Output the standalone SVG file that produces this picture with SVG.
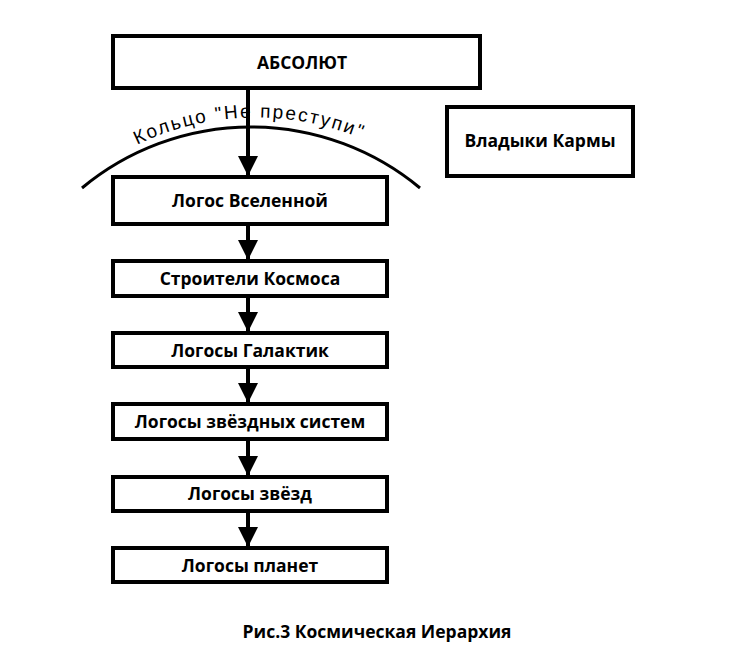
<svg xmlns="http://www.w3.org/2000/svg" width="755" height="663" viewBox="0 0 755 663">
<style>
.b{fill:#fff;stroke:#000;stroke-width:4}
.t{font-family:"Open Sans",sans-serif;font-weight:bold;font-size:17.5px;text-anchor:middle;fill:#000}
.c{stroke:#000;stroke-width:4;fill:none}
</style>
<defs>
<marker id="a" viewBox="0 0 10 10" refX="10" refY="5" markerWidth="5.5" markerHeight="5" orient="auto" markerUnits="strokeWidth"><path d="M0,0L10,5L0,10z" fill="#000"/></marker>
<path id="tp" d="M 92,172 A 274,274 0 0 1 420,172"/>
</defs>
<rect width="755" height="663" fill="#fff"/>
<path d="M 82,188 A 264.6,264.6 0 0 1 420,188" fill="none" stroke="#000" stroke-width="3"/>
<text font-family="Liberation Sans,sans-serif" font-size="19" letter-spacing="2"><textPath href="#tp" startOffset="48%" text-anchor="middle">Кольцо "Не преступи"</textPath></text>
<g id="connectors">
<line class="c" x1="248" y1="88" x2="248" y2="176" marker-end="url(#a)"/>
<line class="c" x1="248" y1="224" x2="248" y2="260" marker-end="url(#a)"/>
<line class="c" x1="248" y1="296" x2="248" y2="332" marker-end="url(#a)"/>
<line class="c" x1="248" y1="367" x2="248" y2="403" marker-end="url(#a)"/>
<line class="c" x1="248" y1="439" x2="248" y2="476" marker-end="url(#a)"/>
<line class="c" x1="248" y1="511" x2="248" y2="547" marker-end="url(#a)"/>
</g>
<g id="absolut"><rect class="b" x="113" y="36" width="367" height="52"/><text class="t" x="302" y="69" font-size="20">АБСОЛЮТ</text></g>
<g id="karma"><rect class="b" x="447" y="107" width="186" height="69"/><text class="t" x="540" y="147">Владыки Кармы</text></g>
<g id="n1"><rect class="b" x="113" y="177" width="274" height="47"/><text class="t" x="250" y="207">Логос Вселенной</text></g>
<g id="n2"><rect class="b" x="113" y="261" width="274" height="35"/><text class="t" x="250" y="285">Строители Космоса</text></g>
<g id="n3"><rect class="b" x="113" y="333" width="274" height="34"/><text class="t" x="250" y="357">Логосы Галактик</text></g>
<g id="n4"><rect class="b" x="113" y="404" width="274" height="35"/><text class="t" x="250" y="428">Логосы звёздных систем</text></g>
<g id="n5"><rect class="b" x="113" y="477" width="274" height="34"/><text class="t" x="250" y="500">Логосы звёзд</text></g>
<g id="n6"><rect class="b" x="113" y="548" width="274" height="34"/><text class="t" x="250" y="572">Логосы планет</text></g>
<text class="t" x="377" y="638">Рис.3 Космическая Иерархия</text>
</svg>
